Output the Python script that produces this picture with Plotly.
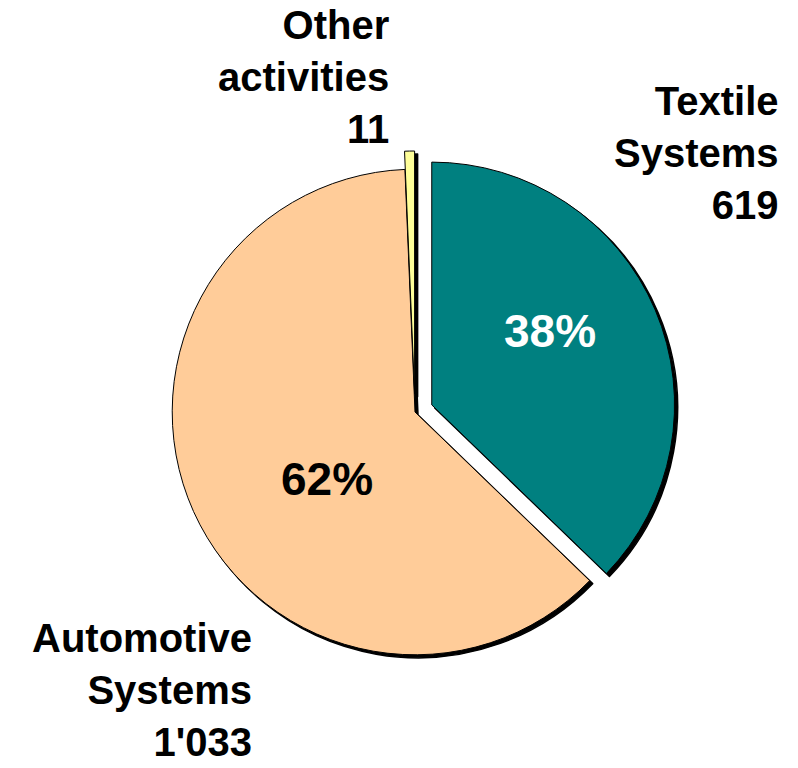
import plotly.graph_objects as go

# Data
segments = ["Textile Systems", "Automotive Systems", "Other activities"]
values = [619, 1033, 11]
pct_labels = ["38%", "62%", ""]
value_labels = ["619", "1'033", "11"]
label_names = ["Textile<br>Systems", "Automotive<br>Systems", "Other<br>activities"]
colors = ["#008080", "#FFCC99", "#FFFF99"]
pulls = [0.075, 0.0, 0.075]

W, H = 798, 768
FONT = "Liberation Sans, Arial, sans-serif"

def px(x):
    return x / W

def py(y):
    return 1 - y / H

# pie domain (square in pixels)
cx, cy, half = 415, 412, 261
dom_x = [px(cx - half), px(cx + half)]
dom_y = [py(cy + half), py(cy - half)]
sh = 3  # shadow offset
dom_x_s = [px(cx - half + sh), px(cx + half + sh)]
dom_y_s = [py(cy + half + sh), py(cy - half + sh)]

fig = go.Figure()
# shadow
fig.add_trace(go.Pie(
    labels=segments, values=values, sort=False, direction="clockwise", rotation=0,
    pull=pulls, marker=dict(colors=["#000000"] * 3, line=dict(color="#000000", width=1.5)),
    textinfo="none", hoverinfo="skip", showlegend=False,
    domain=dict(x=dom_x_s, y=dom_y_s),
))
# main pie
fig.add_trace(go.Pie(
    labels=segments, values=values, sort=False, direction="clockwise", rotation=0,
    pull=pulls, marker=dict(colors=colors, line=dict(color="#000000", width=1)),
    textinfo="none", showlegend=False,
    domain=dict(x=dom_x, y=dom_y),
))

# outer labels: (right edge x, top y) in pixels
label_pos = [(780, 78), (253, 615), (390, 2)]
annotations = []
for name, val, (x, y) in zip(label_names, value_labels, label_pos):
    annotations.append(dict(
        text=f"{name}<br>{val}", x=px(x), y=py(y), xref="paper", yref="paper",
        xanchor="right", yanchor="top", align="right", showarrow=False,
        font=dict(family=FONT, size=40, color="#000000", weight="bold"),
        borderpad=0,
    ))

# percentage labels: centers in pixels
pct_pos = [(550, 331), (327, 479)]
pct_colors = ["#FFFFFF", "#000000"]
for lab, (x, y), c in zip(pct_labels[:2], pct_pos, pct_colors):
    annotations.append(dict(
        text=lab, x=px(x), y=py(y), xref="paper", yref="paper",
        xanchor="center", yanchor="middle", showarrow=False,
        font=dict(family=FONT, size=46, color=c, weight="bold"),
        borderpad=0,
    ))

fig.update_layout(
    width=W, height=H, margin=dict(l=0, r=0, t=0, b=0),
    paper_bgcolor="#FFFFFF", plot_bgcolor="#FFFFFF",
    annotations=annotations,
)

fig.write_html("out.html")
